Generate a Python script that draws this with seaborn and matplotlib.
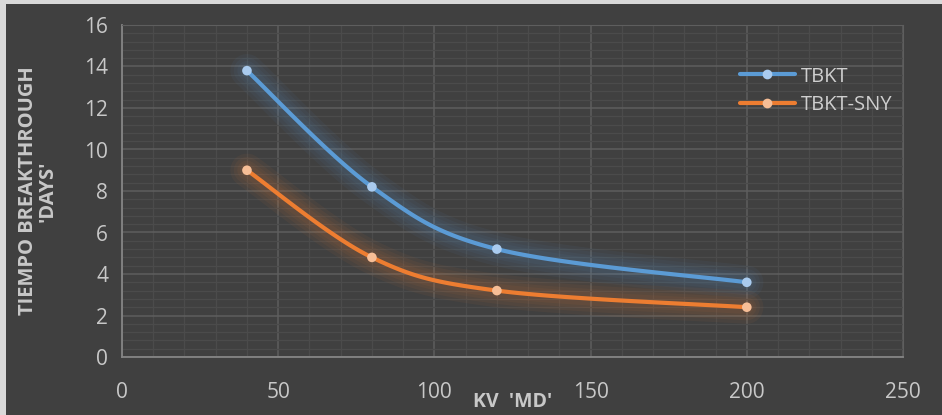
import numpy as np
import pandas as pd
import seaborn as sns
import matplotlib.pyplot as plt
from matplotlib.lines import Line2D
from matplotlib.patches import Rectangle
from matplotlib.ticker import MultipleLocator

kv = [40, 80, 120, 200]
tbkt = [13.8, 8.2, 5.2, 3.6]
tbkt_sny = [9.0, 4.8, 3.2, 2.4]
series_names = ['TBKT', 'TBKT-SNY']
line_colors = ['#5B9BD5', '#ED7D31']
marker_colors = ['#A9CBEF', '#F7BE96']

BG = '#404040'
TXT = '#C8C8C8'


def smooth(xs, ys, n=40):
    # excel-style smoothed line (catmull-rom as cubic bezier)
    p = np.column_stack([xs, ys]).astype(float)
    p = np.vstack([p[0], p, p[-1]])
    out = []
    t = np.linspace(0, 1, n)[:, None]
    for i in range(1, len(p) - 2):
        p0, p1, p2, p3 = p[i - 1], p[i], p[i + 1], p[i + 2]
        c1 = p1 + (p2 - p0) / 6
        c2 = p2 - (p3 - p1) / 6
        seg = ((1 - t) ** 3) * p1 + 3 * ((1 - t) ** 2) * t * c1 + 3 * (1 - t) * t ** 2 * c2 + t ** 3 * p2
        out.append(seg if i == 1 else seg[1:])
    out = np.vstack(out)
    return out[:, 0], out[:, 1]


sns.set_style('white', rc={'axes.facecolor': BG, 'figure.facecolor': BG})
plt.rcParams['font.family'] = ['Open Sans', 'DejaVu Sans']

fig = plt.figure(figsize=(9.42, 4.15), dpi=100)
fig.patch.set_facecolor('#D9D9D9')
fig.add_artist(Rectangle((6 / 942, 0), 1, 1 - 4 / 415, transform=fig.transFigure,
                         facecolor=BG, edgecolor='none', zorder=-10))
ax = fig.add_axes([122 / 942, 1 - 357 / 415, 781 / 942, 332 / 415])
ax.set_facecolor(BG)

for name, vals, lc, mc in zip(series_names, [tbkt, tbkt_sny], line_colors, marker_colors):
    sx, sy = smooth(kv, vals)
    df = pd.DataFrame({'kv': sx, 'val': sy})
    for w in [24, 19, 14, 10]:
        sns.lineplot(data=df, x='kv', y='val', sort=False, color=lc, lw=w, alpha=0.055,
                     ax=ax, solid_capstyle='round', zorder=2)
    sns.lineplot(data=df, x='kv', y='val', sort=False, color=lc, lw=3, ax=ax, zorder=3,
                 solid_capstyle='round')
    sns.scatterplot(x=kv, y=vals, color=mc, s=48, edgecolor='none', ax=ax, zorder=4)

ax.set_xlim(0, 250)
ax.set_ylim(0, 16)
ax.xaxis.set_major_locator(MultipleLocator(50))
ax.xaxis.set_minor_locator(MultipleLocator(10))
ax.yaxis.set_major_locator(MultipleLocator(2))
ax.yaxis.set_minor_locator(MultipleLocator(0.4))
ax.grid(which='major', color='#5E5E5E', lw=1.1, zorder=0)
ax.grid(which='minor', color='#4B4B4B', lw=0.9, zorder=0)
ax.set_axisbelow(True)

for s in ['top', 'right']:
    ax.spines[s].set_color('#5E5E5E')
for s in ['left', 'bottom']:
    ax.spines[s].set_color('#858585')
    ax.spines[s].set_linewidth(1.3)

ax.tick_params(axis='y', which='major', length=6, width=1.2, color='#858585',
               labelsize=15, labelcolor=TXT, pad=4)
ax.tick_params(axis='x', which='major', length=0, labelsize=15, labelcolor=TXT, pad=18)
ax.tick_params(which='minor', length=0)

ax.set_xlabel("KV  'MD'", fontsize=14, fontweight='bold', color=TXT)
ax.xaxis.set_label_coords(0.5, -0.105)
ax.set_ylabel("TIEMPO BREAKTHROUGH\n'DAYS'", fontsize=14.5, fontweight='bold', color=TXT,
              linespacing=1.0)
ax.yaxis.set_label_coords(-0.082, 0.5)

handles = [Line2D([], [], color=lc, lw=3, marker='o', markersize=7, markerfacecolor=mc,
                  markeredgecolor='none') for lc, mc in zip(line_colors, marker_colors)]
ax.legend(handles, series_names, loc='upper left', bbox_to_anchor=(0.791, 0.875),
          frameon=False, fontsize=14.5, labelcolor='#CFCFCF', handlelength=2.75,
          handletextpad=0.3, borderpad=0, borderaxespad=0, labelspacing=0.4)

fig.savefig('out.png', dpi=100, facecolor=fig.get_facecolor())
